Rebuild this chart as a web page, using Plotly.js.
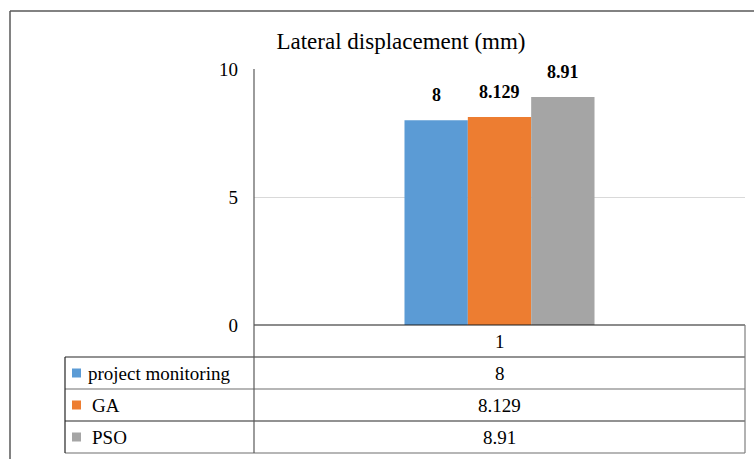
<!DOCTYPE html>
<html>
<head>
<meta charset="utf-8">
<script src="https://cdn.plot.ly/plotly-3.0.1.min.js"></script>
<style>
html,body{margin:0;padding:0;background:#fff;}
#chart{width:754px;height:459px;}
#fontprobe{position:absolute;left:412px;top:250px;z-index:10;color:#5b9bd5;font-family:'Liberation Serif';font-size:14px;line-height:16px;pointer-events:none;}
</style>
</head>
<body>
<div id="chart"></div>
<div id="fontprobe">Lat 8.1<br><b>8.129</b></div>
<script>
// ---- data ----
const categories = ['1'];
const seriesNames = ['project monitoring', 'GA', 'PSO'];
const projectMonitoring = [8];
const gaValues = [8.129];
const psoValues = [8.91];
const yTicks = [0, 5, 10];
const seriesValues = [projectMonitoring, gaValues, psoValues];
const colors = ['#5b9bd5', '#ed7d31', '#a5a5a5'];

(function () {
  const W = 754, H = 459;
  const L = 254, R = 745, T = 69, B = 325;
  const PW = R - L, PH = B - T;
  const px = x => (x - L) / PW;
  const py = y => (B - y) / PH;
  const FF = 'Liberation Serif';
  const bargap = 0.613;

  const traces = seriesNames.map((n, i) => ({
    type: 'bar', name: n, x: categories, y: seriesValues[i],
    marker: {color: colors[i]}, hoverinfo: 'none'
  }));

  const annotations = [];
  const barW = (1 - bargap) / seriesNames.length;
  seriesNames.forEach((n, i) => {
    seriesValues[i].forEach((v, c) => {
      annotations.push({
        xref: 'x', yref: 'y', x: c + (i - (seriesNames.length - 1) / 2) * barW, y: v,
        text: '<b>' + v + '</b>', showarrow: false, yanchor: 'bottom', yshift: 13,
        font: {family: FF, size: 18, color: '#000'}
      });
    });
  });

  const rowTops = [325, 357, 389, 421, 453];
  const legendLeft = 65;
  const shapes = [];
  const line = (x0, y0, x1, y1, color, w) => shapes.push({
    type: 'line', xref: 'paper', yref: 'paper', x0: px(x0), y0: py(y0), x1: px(x1), y1: py(y1),
    line: {color: color, width: w}, layer: 'above'
  });
  line(10, 11, 754, 11, '#595959', 1.5);
  line(10, 11, 10, 459, '#595959', 1.5);
  line(L, rowTops[0], R, rowTops[0], '#1a1a1a', 1.2);
  for (let r = 1; r < rowTops.length; r++) {
    line(legendLeft, rowTops[r], R, rowTops[r], r % 2 ? '#262626' : '#6e6e6e', 1.2);
  }
  line(legendLeft, rowTops[1], legendLeft, rowTops[4], '#262626', 1.2);
  line(L, T, L, rowTops[4], '#595959', 1.2);
  line(R, rowTops[0], R, rowTops[4], '#7f7f7f', 1.2);

  categories.forEach((c) => {
    annotations.push({xref: 'paper', yref: 'paper', x: 0.5, y: py((rowTops[0] + rowTops[1]) / 2),
      text: c, showarrow: false, xanchor: 'center', yanchor: 'middle',
      font: {family: FF, size: 19, color: '#000'}});
  });
  seriesNames.forEach((n, i) => {
    const yc = (rowTops[i + 1] + rowTops[i + 2]) / 2;
    shapes.push({type: 'rect', xref: 'paper', yref: 'paper',
      x0: px(72), x1: px(81), y0: py(yc - 4.5), y1: py(yc + 4.5),
      fillcolor: colors[i], line: {width: 0}});
    annotations.push({xref: 'paper', yref: 'paper', x: px(i === 0 ? 86 : 90), y: py(yc),
      text: n, showarrow: false, xanchor: 'left', yanchor: 'middle',
      font: {family: FF, size: 19, color: '#000'}});
    annotations.push({xref: 'paper', yref: 'paper', x: 0.5, y: py(yc),
      text: String(seriesValues[i][0]), showarrow: false, xanchor: 'center', yanchor: 'middle',
      font: {family: FF, size: 19, color: '#000'}});
  });

  const layout = {
    width: W, height: H,
    font: {family: FF, color: '#000'},
    margin: {l: L, r: W - R, t: T, b: H - B, pad: 0},
    paper_bgcolor: '#fff', plot_bgcolor: '#fff',
    showlegend: false,
    barmode: 'group', bargap: bargap, bargroupgap: 0,
    title: {text: 'Lateral displacement (mm)', font: {family: FF, size: 23, color: '#000'},
      xref: 'paper', x: px(401), xanchor: 'center', yref: 'container', y: 1 - 41 / H, yanchor: 'middle'},
    xaxis: {type: 'category', showticklabels: false, ticks: '', showgrid: false, zeroline: false,
      showline: false, fixedrange: true},
    yaxis: {range: [0, 10], tickvals: yTicks, ticktext: yTicks.map(String), ticks: '',
      showgrid: true, gridcolor: '#d9d9d9', gridwidth: 1.2, zeroline: false, showline: false,
      tickfont: {family: FF, size: 19, color: '#000'}, ticklabelstandoff: 15, fixedrange: true},
    shapes: shapes, annotations: annotations
  };

  Plotly.newPlot('chart', traces, layout, {displayModeBar: false});
})();
</script>
</body>
</html>
